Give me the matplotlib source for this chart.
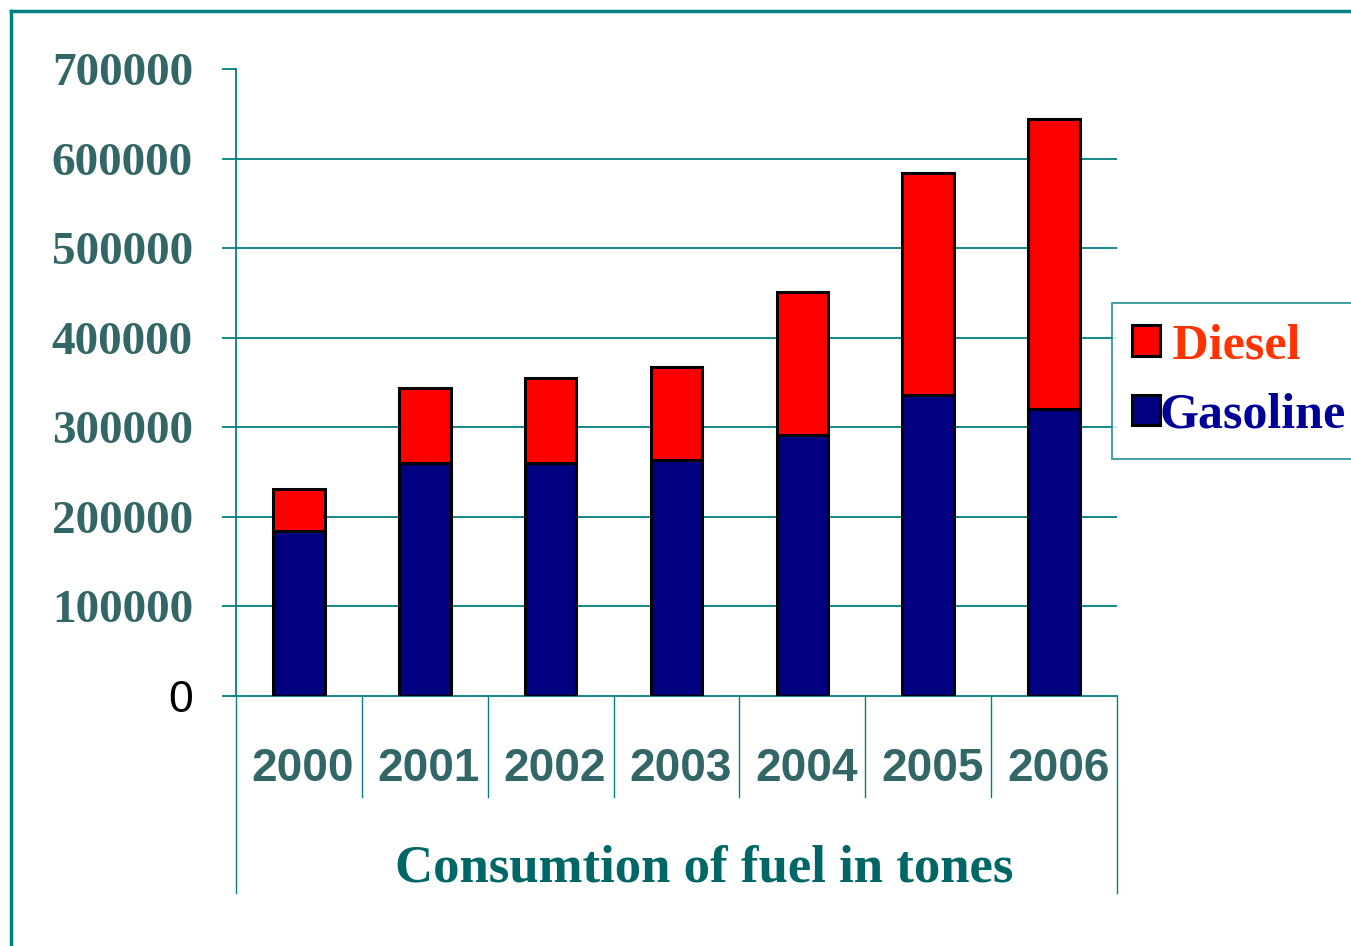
import matplotlib.pyplot as plt
import numpy as np
from matplotlib.lines import Line2D
from matplotlib.patches import Patch
import matplotlib.transforms as mtransforms

years = ['2000', '2001', '2002', '2003', '2004', '2005', '2006']
gasoline = [184000, 260000, 260000, 264000, 291000, 336000, 320000]
diesel = [47000, 84000, 95000, 103000, 160000, 248000, 324000]

teal = '#008080'
label_col = '#336666'

fig = plt.figure(figsize=(13.51, 9.46), dpi=100)
ax = fig.add_axes([236/1351, 1 - 696/946, (1117 - 236)/1351, (696 - 69)/946])

x = np.arange(len(years))
ax.bar(x, gasoline, width=0.41, color='#000080', edgecolor='black', linewidth=2.2, zorder=3)
ax.bar(x, diesel, width=0.41, bottom=gasoline, color='#ff0000', edgecolor='black', linewidth=2.2, zorder=3)

ax.set_xlim(-0.5, len(years) - 0.5)
ax.set_ylim(0, 700000)

# horizontal grid, none on the top tick
ax.hlines(range(100000, 700000, 100000), -0.5, len(years) - 0.5, color=teal, lw=1.3, zorder=1)

for side in ['top', 'right']:
    ax.spines[side].set_visible(False)
ax.spines['left'].set_color(teal)
ax.spines['bottom'].set_color(teal)
ax.spines['left'].set_linewidth(1.3)
ax.spines['bottom'].set_linewidth(1.3)

# y ticks
yt = list(range(0, 800000, 100000))
ax.set_yticks(yt)
ax.set_yticklabels([str(v) for v in yt])
ax.tick_params(axis='y', length=10, width=1.3, color=teal, pad=21)
for i, lab in enumerate(ax.get_yticklabels()):
    if i == 0:
        lab.set_fontfamily('Liberation Sans')
        lab.set_fontsize(32)
        lab.set_color('black')
    else:
        lab.set_fontfamily('Liberation Serif')
        lab.set_fontweight('bold')
        lab.set_fontsize(34)
        lab.set_color(label_col)

# x ticks, nudged a little to the right
ax.set_xticks(x)
ax.set_xticklabels(years, fontfamily='Liberation Sans', fontweight='bold',
                   fontsize=33, color=label_col)
ax.tick_params(axis='x', length=0, pad=37)
shift = mtransforms.ScaledTranslation(4/100, 0, fig.dpi_scale_trans)
for lab in ax.get_xticklabels():
    lab.set_transform(lab.get_transform() + shift)

# category separators and extended frame lines below the axis
trans = mtransforms.blended_transform_factory(ax.transData, ax.transAxes)
for b in np.arange(0.5, len(years) - 0.5, 1):
    ax.plot([b, b], [0, -0.161], color=teal, lw=1.0, transform=trans, clip_on=False)
ax.plot([-0.5, -0.5], [0, -0.314], color=teal, lw=1.0, transform=trans, clip_on=False)
ax.plot([len(years) - 0.5] * 2, [0, -0.314], color=teal, lw=1.0, transform=trans, clip_on=False)
ax.plot([-0.53, -0.5], [0, 0], color=teal, lw=1.3, transform=trans, clip_on=False)

fig.text(704/1351, 1 - 868/946, 'Consumtion of fuel in tones', ha='center', va='center',
         fontfamily='Liberation Serif', fontweight='bold', fontsize=38, color='#006666')

# legend
handles = [Patch(facecolor='#ff0000', edgecolor='black', linewidth=2.2),
           Patch(facecolor='#000080', edgecolor='black', linewidth=2.2)]
leg = fig.legend(handles, [' Diesel', 'Gasoline'], loc='center left',
                 bbox_to_anchor=(1112/1351, 1 - 381/946),
                 prop={'family': 'Liberation Serif', 'weight': 'bold', 'size': 36},
                 labelcolor=['#ff3300', '#000099'], frameon=True, fancybox=False,
                 edgecolor=teal, handlelength=0.55, handleheight=0.55,
                 handletextpad=0.0, borderpad=0.4, labelspacing=0.47, borderaxespad=0)
leg.get_frame().set_linewidth(1.3)

# outer frame
fig.add_artist(Line2D([11/1351, 11/1351], [0, 1 - 11/946], color=teal, lw=2.5, transform=fig.transFigure))
fig.add_artist(Line2D([11/1351, 1], [1 - 11/946, 1 - 11/946], color=teal, lw=2.5, transform=fig.transFigure))

fig.savefig('out.png', dpi=100)
